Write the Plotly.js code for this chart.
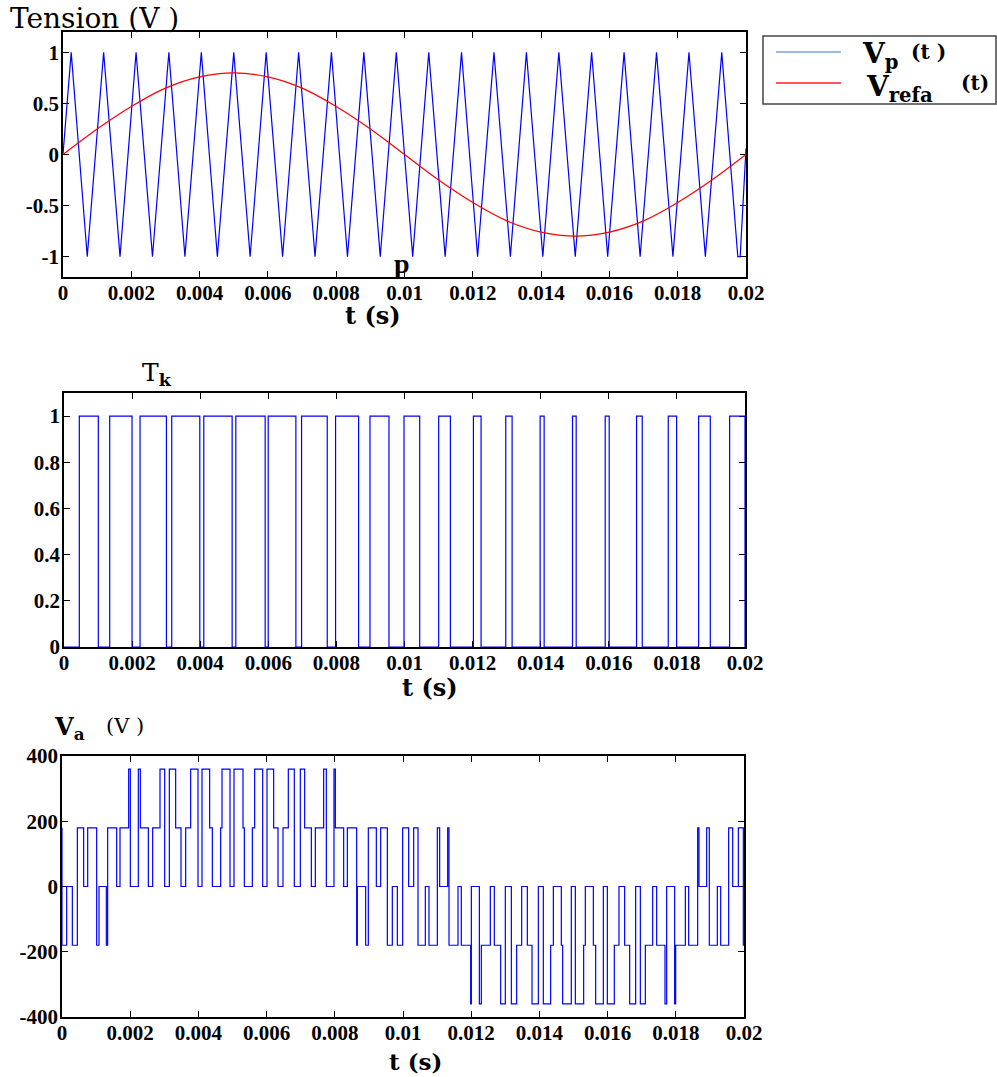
<!DOCTYPE html>
<html><head><meta charset="utf-8">
<script src="https://cdn.plot.ly/plotly-3.0.1.min.js"></script>
<style>html,body{margin:0;padding:0;background:#fff;}</style>
</head><body>
<div id="chart" style="width:997px;height:1077px"></div>
<script>
// ---- data ----
// carrier (triangle) vertices
const carrierT = [0,0.00024,0.00071,0.00119,0.00167,0.00214,0.00262,0.00310,0.00357,0.00405,0.00452,
  0.00500,0.00548,0.00595,0.00643,0.00690,0.00738,0.00786,0.00833,0.00881,0.00929,0.00976,
  0.01024,0.01071,0.01119,0.01167,0.01214,0.01262,0.01310,0.01357,0.01405,0.01452,0.01500,
  0.01548,0.01595,0.01643,0.01690,0.01738,0.01786,0.01833,0.01881,0.01929,0.01976,0.01983,0.02];
const carrierV = [0,1,-1,1,-1,1,-1,1,-1,1,-1,
  1,-1,1,-1,1,-1,1,-1,1,-1,1,
  -1,1,-1,1,-1,1,-1,1,-1,1,-1,
  1,-1,1,-1,1,-1,1,-1,1,-1,-1,0.06];
// reference sine samples
const refT = [0,0.001,0.002,0.003,0.004,0.005,0.006,0.007,0.008,0.009,0.010,
  0.011,0.012,0.013,0.014,0.015,0.016,0.017,0.018,0.019,0.020];
const refV = [0,0.25,0.47,0.65,0.76,0.80,0.76,0.65,0.47,0.25,0,
  -0.25,-0.47,-0.65,-0.76,-0.80,-0.76,-0.65,-0.47,-0.25,0];
// switching signal Tk (edge times and level after edge)
const tkT = [0,0.000450,0.001008,0.001342,0.001998,0.002233,0.003008,0.003164,0.003988,0.004105,0.004938,
  0.005046,0.005908,0.005997,0.006810,0.006977,0.007731,0.007976,0.008652,0.008986,0.009544,
  0.009985,0.010446,0.011004,0.011348,0.012024,0.012249,0.012974,0.013160,0.013983,0.014101,
  0.014934,0.015042,0.015894,0.016012,0.016815,0.016982,0.017746,0.017992,0.018638,0.018981,
  0.019549,0.020000];
const tkV = [0,1,0,1,0,1,0,1,0,1,0,
  1,0,1,0,1,0,1,0,1,0,
  1,0,1,0,1,0,1,0,1,0,
  1,0,1,0,1,0,1,0,1,0,
  1,0];
// phase voltage Va (edge times and level after edge)
const vaT = [0,0,0.000137,0.000303,0.000450,0.000635,0.000753,0.001017,0.001085,0.001300,
  0.001339,0.001603,0.001701,0.001955,0.002004,0.002238,0.002297,0.002532,0.002659,0.002874,
  0.003011,0.003148,0.003333,0.003490,0.003627,0.003773,0.003988,0.004106,0.004330,0.004409,
  0.004653,0.004692,0.004927,0.005044,0.005308,0.005347,0.005582,0.005650,0.005885,0.006012,
  0.006207,0.006334,0.006481,0.006637,0.006813,0.006989,0.007116,0.007312,0.007429,0.007673,
  0.007752,0.007976,0.008016,0.008260,0.008368,0.008641,0.008661,0.008905,0.008983,0.009218,
  0.009345,0.009541,0.009687,0.009834,0.009990,0.010166,0.010313,0.010440,0.010655,0.010762,
  0.011007,0.011075,0.011310,0.011349,0.011613,0.011710,0.011984,0.012004,0.012239,0.012297,
  0.012561,0.012678,0.012864,0.013001,0.013177,0.013333,0.013480,0.013646,0.013783,0.013969,
  0.014115,0.014330,0.014409,0.014643,0.014682,0.014936,0.015054,0.015298,0.015347,0.015582,
  0.015650,0.015875,0.015992,0.016197,0.016334,0.016500,0.016647,0.016823,0.016960,0.017107,
  0.017322,0.017439,0.017683,0.017732,0.017967,0.017996,0.018280,0.018377,0.018641,0.018680,
  0.018905,0.018983,0.019218,0.019316,0.019550,0.019668,0.019834,0.019980,0.020000];
const vaV = [180,-180,0,-180,180,0,180,-180,0,-180,
  180,0,180,360,0,360,180,0,180,360,
  0,360,180,0,180,360,0,360,180,0,
  180,360,0,360,180,0,180,360,0,360,
  180,0,180,360,0,360,180,0,180,360,
  0,360,180,0,180,-180,0,-180,180,0,
  180,-180,0,-180,180,0,180,-180,0,-180,
  180,0,180,-180,0,-180,-360,0,-360,-180,
  0,-180,-360,0,-360,-180,0,-180,-360,0,
  -360,-180,0,-180,-360,0,-360,-180,0,-180,
  -360,0,-360,-180,0,-180,-360,0,-360,-180,
  0,-180,-360,0,-360,-180,0,-180,180,0,
  180,-180,0,-180,180,0,180,-180,-180];
// tick labels
const xTickVals = [0,0.002,0.004,0.006,0.008,0.01,0.012,0.014,0.016,0.018,0.02];
const xTickText = ["0","0.002","0.004","0.006","0.008","0.01","0.012","0.014","0.016","0.018","0.02"];
const y1TickVals = [-1,-0.5,0,0.5,1];
const y1TickText = ["-1","-0.5","0","0.5","1"];
const y2TickVals = [0,0.2,0.4,0.6,0.8,1];
const y2TickText = ["0","0.2","0.4","0.6","0.8","1"];
const y3TickVals = [-400,-200,0,200,400];
const y3TickText = ["-400","-200","0","200","400"];

// ---- layout helpers ----
const W = 997, H = 1077;
const px = x => x / W;
const py = y => 1 - y / H;
const bold = arr => arr.map(s => '<b>' + s + '</b>');
function tickFont() { return {family: 'Liberation Serif, Times New Roman, serif', size: 21, color: '#000'}; }
function xax(x0, x1, anchor) {
  return {domain: [px(x0), px(x1)], anchor: anchor, range: [0, 0.02],
    tickmode: 'array', tickvals: xTickVals, ticktext: bold(xTickText),
    ticks: 'inside', ticklen: 6, tickwidth: 1, tickcolor: '#000', ticklabelstandoff: -4,
    showline: true, linecolor: '#000', linewidth: 1.8, mirror: 'ticks',
    showgrid: false, zeroline: false, tickfont: tickFont(), fixedrange: true, layer: 'below traces'};
}
function yax(y0, y1, anchor, range, tv, tt) {
  return {domain: [py(y1), py(y0)], anchor: anchor, range: range,
    tickmode: 'array', tickvals: tv, ticktext: bold(tt),
    ticks: 'inside', ticklen: 6, tickwidth: 1, tickcolor: '#000', ticklabelstandoff: -2,
    showline: true, linecolor: '#000', linewidth: 1.8, mirror: 'ticks',
    showgrid: false, zeroline: false, tickfont: tickFont(), fixedrange: true, layer: 'below traces'};
}

const traces = [
  {x: carrierT, y: carrierV, xaxis: 'x', yaxis: 'y', mode: 'lines', name: 'Vp (t)',
   line: {color: '#0000ff', width: 1.2}, showlegend: false},
  {x: refT, y: refV, xaxis: 'x', yaxis: 'y', mode: 'lines', name: 'Vrefa (t)',
   line: {color: '#ff0000', width: 1.2, shape: 'spline'}, showlegend: false},
  {x: tkT, y: tkV, xaxis: 'x2', yaxis: 'y2', mode: 'lines', name: 'Tk',
   line: {color: '#0000ff', width: 1.2, shape: 'hv'}, showlegend: false},
  {x: vaT, y: vaV, xaxis: 'x3', yaxis: 'y3', mode: 'lines', name: 'Va',
   line: {color: '#0000ff', width: 1.2, shape: 'hv'}, showlegend: false}
];

const serif = 'DejaVu Serif';
function ann(text, x, y, size, opts) {
  return Object.assign({text: text, xref: 'paper', yref: 'paper', x: px(x), y: py(y),
    xanchor: 'center', yanchor: 'middle', showarrow: false,
    font: {family: serif, size: size, color: '#000'}}, opts || {});
}

const annotations = [
  ann('Tension (V )', 8, 19, 28, {xanchor: 'left'}),
  ann('<b>p</b>', 402, 264, 28, {font: {family: 'Liberation Serif', size: 28, color: '#000'}}),
  ann('<b>t (s)</b>', 373, 315, 24),
  ann('T<sub><b>k</b></sub>', 157, 374, 25),
  ann('<b>t (s)</b>', 430, 687, 24),
  ann('<b>V<sub>a</sub></b>', 69, 728, 24),
  ann('(V )', 125, 726, 21),
  ann('<b>t (s)</b>', 415, 1061, 23),
  ann('<b>V<sub>p</sub></b>', 880, 56, 28),
  ann('<b>(t )</b>', 928, 52, 20),
  ann('<b>V<sub>refa</sub></b>', 899, 88, 28),
  ann('<b>(t)</b>', 975, 83, 20)
];

const shapes = [
  {type: 'rect', xref: 'paper', yref: 'paper', x0: px(763), x1: px(996), y0: py(104), y1: py(36),
   line: {color: '#444', width: 1.5}, fillcolor: 'rgba(0,0,0,0)'},
  {type: 'line', xref: 'paper', yref: 'paper', x0: px(776), x1: px(841), y0: py(52), y1: py(52),
   line: {color: '#7ba3d6', width: 1.5}},
  {type: 'line', xref: 'paper', yref: 'paper', x0: px(776), x1: px(841), y0: py(83), y1: py(83),
   line: {color: '#ff2020', width: 1.5}}
];

const layout = {
  width: W, height: H, autosize: false,
  margin: {l: 0, r: 0, t: 0, b: 0, pad: 0},
  paper_bgcolor: '#fff', plot_bgcolor: '#fff',
  font: {family: 'Liberation Serif, serif', color: '#000'},
  showlegend: false,
  xaxis: xax(63, 746, 'y'),
  yaxis: yax(32, 277, 'x', [-1.2, 1.2], y1TickVals, y1TickText),
  xaxis2: xax(64, 745, 'y2'),
  yaxis2: yax(393, 647, 'x2', [0, 1.1], y2TickVals, y2TickText),
  xaxis3: xax(62, 744, 'y3'),
  yaxis3: yax(756, 1017, 'x3', [-400, 400], y3TickVals, y3TickText),
  annotations: annotations,
  shapes: shapes
};

Plotly.newPlot('chart', traces, layout, {displayModeBar: false, staticPlot: true});
</script>
</body></html>
